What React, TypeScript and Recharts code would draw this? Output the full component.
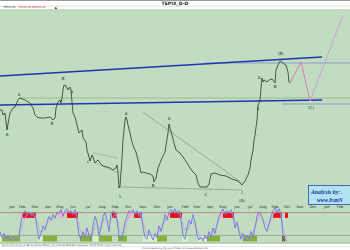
import React from 'react';
import { ComposedChart, Line, XAxis, YAxis, ReferenceLine, ReferenceArea, Scatter } from 'recharts';

// ---- data (x = trading-day position, v = index level in thousands) ----
const PRICE: [number, number][] = [
  [0,74.2],[2,74.2],[3,73.2],[5,73.6],[7,70.2],[9,72.6],[10,73.6],[13,74.6],[15,74.8],[18,76.2],[20,76.6],[25,76.2],
  [30,75.6],[33,74.6],[35,73.2],[37,72.8],[40,72.6],[45,72.6],[50,72.8],[53,72.2],[55,72.6],[56,74.6],[58,75.8],
  [60,76.2],[61,75.6],[62,76.6],[63,78.2],[64,79.2],[66,79.0],[68,78.2],[70,78.8],[71,78.2],[72,75.8],[73,73.6],
  [75,72.8],[77,71.2],[79,69.6],[82,70.2],[83,68.6],[86,67.8],[87,66.2],[89,64.8],[90,64.0],[92,65.2],[93,64.8],
  [95,63.6],[98,64.2],[100,63.6],[103,63.0],[107,62.8],[110,62.6],[113,62.2],[116,62.6],[117,63.2],[118,61.8],
  [119,58.6],[120,59.0],[122,64.6],[123,68.2],[125,72.2],[126,72.8],[127,72.2],[128,71.2],[130,69.6],[132,67.8],
  [134,66.6],[136,65.8],[138,64.2],[140,62.6],[141,61.6],[143,61.8],[146,61.6],[150,61.4],[153,61.0],[154,59.8],
  [156,60.6],[158,62.6],[160,63.6],[162,64.6],[165,65.8],[166,67.2],[168,69.6],[169,71.4],[170,70.6],[172,69.2],
  [174,67.6],[176,66.2],[180,65.6],[183,64.8],[187,63.6],[190,62.6],[193,61.8],[196,61.2],[198,59.6],[200,58.8],
  [203,58.8],[207,58.8],[209,59.4],[211,61.4],[215,61.6],[220,61.2],[226,61.0],[232,60.4],[238,60.0],[242,59.2],
  [245,60.0],[248,61.2],[250,62.6],[251,64.2],[253,66.2],[254,68.2],[255,69.2],[257,72.2],[258,75.2],[260,76.0],
  [261,78.6],[262,80.6],[263,79.8],[264,80.2],[267,79.8],[269,80.2],[272,80.4],[275,79.6],[276,82.2],[278,83.2],
  [280,84.0],[282,83.8],[284,83.4],[286,83.2],[288,81.8],[289,79.8],[290,79.6],
];
const PROJECTION_1: [number, number][] = [[290,79.6],[301,83.8],[310,76.0]];
const PROJECTION_2: [number, number][] = [[310,76.0],[343,93.2]];

const UPPER_CHANNEL: [number, number][] = [[0,81.0],[322,84.8]];
const LOWER_CHANNEL: [number, number][] = [[0,75.2],[322,76.2]];
const UPPER_LEVEL: [number, number][] = [[205,83.6],[350,83.6]];
const LOWER_LEVEL: [number, number][] = [[282,75.4],[350,75.4]];
const GREEN_LEVEL: [number, number][] = [[18,76.6],[350,76.6]];
const TRIANGLE_TOP: [number, number][] = [[143,73.8],[242,59.6]];
const TRIANGLE_BASE: [number, number][] = [[120,58.8],[242,58.2]];
const SMALL_UPPER: [number, number][] = [[93,65.6],[118,64.6]];
const SMALL_LOWER: [number, number][] = [[95,63.6],[118,61.6]];

const WAVE_LABELS: [number, number, string][] = [
  [7,69.4,'A'],[19,77.4,'A'],[52,71.6,'B'],[63,80.6,'B'],[72,78.0,'a'],[88,64.0,'c'],[120,57.0,'1'],
  [126,73.6,'A'],[153,59.2,'B'],[169,72.6,'A'],[206,57.4,'C'],[242,57.8,'I'],[242,56.2,'(A)'],
  [258,74.6,'4'],[259,80.8,'A'],[275,79.0,'B'],[281,85.6,'(B)'],[311,74.8,'(C)'],
];

const MONTH_DAYS = [12,22,35,48,60,73,88,102,115,128,143,157,170,185,197,210,223,237,250,263,275,287,300,313,327,340];
const MONTH_NAMES = ['Jan','Feb','Mar','Apr','May','Jun','Jul','Aug','Sep','Oct','Nov','Dec',
  'Jan','Feb','Mar','Apr','May','Jun','Jul','Aug','Sep','Oct','Nov','Dec','Jan','Feb'];

const STOCH_K: [number, number][] = [
  [0,30],[2,15],[4,25],[6,10],[8,20],[10,8],[13,15],[16,10],[19,20],[21,55],[23,78],[25,85],[27,78],[29,82],
  [31,70],[33,80],[35,75],[37,40],[39,10],[41,25],[43,45],[45,35],[47,55],[49,70],[51,60],[53,75],[55,65],
  [57,82],[59,78],[61,88],[63,70],[65,85],[67,90],[69,80],[71,85],[73,75],[75,88],[77,60],[79,20],[81,10],
  [83,30],[85,15],[87,40],[89,20],[91,10],[93,45],[95,70],[97,55],[99,20],[101,40],[103,70],[105,80],[107,60],
  [109,30],[111,75],[113,85],[115,80],[117,60],[119,15],[121,10],[123,25],[125,55],[127,70],[129,85],[131,80],
  [133,88],[135,75],[137,85],[139,70],[141,82],[143,40],[145,15],[147,10],[149,35],[151,20],[153,8],[155,25],
  [157,15],[159,45],[161,30],[163,50],[165,75],[167,60],[169,82],[171,88],[173,80],[175,90],[177,78],[179,85],
  [181,60],[183,20],[185,10],[187,40],[189,60],[191,50],[193,75],[195,55],[197,20],[199,8],[201,15],[203,5],
  [205,20],[207,10],[209,30],[211,15],[213,40],[215,25],[217,50],[219,70],[221,80],[223,90],[225,75],[227,85],
  [229,80],[231,88],[233,70],[235,40],[237,55],[239,30],[241,10],[243,25],[245,8],[247,20],[249,10],[251,30],
  [253,15],[255,40],[257,70],[259,82],[261,75],[263,60],[265,40],[267,30],[269,50],[271,70],[273,85],[275,92],
  [277,80],[279,90],[281,75],[283,20],[285,10],[287,5],
];
const STOCH_D: [number, number][] = [
  [0,25],[4,18],[8,15],[12,12],[16,12],[20,25],[24,60],[28,80],[32,77],[36,65],[40,30],[44,32],[48,55],[52,65],
  [56,72],[60,82],[64,80],[68,85],[72,80],[76,78],[80,35],[84,18],[88,25],[92,22],[96,55],[100,35],[104,65],
  [108,55],[112,65],[116,78],[120,30],[124,25],[128,65],[132,82],[136,80],[140,78],[144,45],[148,20],[152,20],
  [156,18],[160,35],[164,55],[168,72],[172,85],[176,83],[180,78],[184,35],[188,35],[192,60],[196,45],[200,12],
  [204,12],[208,18],[212,25],[216,40],[220,68],[224,82],[228,82],[232,80],[236,52],[240,30],[244,15],[248,14],
  [252,20],[256,50],[260,75],[264,60],[268,42],[272,70],[276,85],[280,85],[284,30],[287,10],
];

const ZONES_RED: [number, number][] = [[23,36],[67,78],[112,117],[134,142],[170,182],[223,234],[273,282],[285,288]];
const ZONES_PINK: [number, number][] = [[20,22],[58,65],[128,133],[220,223],[257,259]];
const ZONES_GREEN: [number, number][] = [[2,20],[43,57],[80,92],[99,112],[118,127],[157,167],[207,220],[243,257]];
const ZONES_LIGHT: [number, number][] = [[0,2],[38,42],[93,98],[143,157],[182,188],[198,207]];
const ZONES_BROWN: [number, number][] = [[282,285]];

const pts = (a: [number, number][]) => a.map(([x, v]) => ({ x, v }));
const seg = (a: [number, number][]) => a.map(([x, y]) => ({ x, y }));

const FONT = 'DejaVu Sans';

const LabelShape = (p: any) => (
  <text x={p.cx} y={p.cy} fontSize={4} fontFamily={FONT} textAnchor="middle" dominantBaseline="central" fill="#222">
    {p.payload.t}
  </text>
);

export default function App() {
  const labels = WAVE_LABELS.map(([x, v, t]) => ({ x, v, t }));
  return (
    <div style={{ position: 'absolute', left: 0, top: 0, width: 350, height: 250, background: '#ffffff', overflow: 'hidden' }}>
      {/* frame background */}
      <svg width={350} height={250} style={{ position: 'absolute', left: 0, top: 0 }}>
        <rect x={0} y={0} width={350} height={1} fill="#9a9a9a" />
        <text x={175} y={4.6} fontSize={4.6} fontWeight="bold" fontFamily={FONT} textAnchor="middle" fill="#222">TEPIX_D-D</text>
        <rect x={0} y={5.8} width={350} height={0.6} fill="#c8c8c8" />
        <text x={3} y={8.4} fontSize={2.8} fontFamily={FONT} fill="#333">TEPIX,D1</text>
        <text x={18} y={8.4} fontSize={2.8} fontFamily={FONT} fill="#e03030">79446.30 80163.40</text>
        <text x={55} y={8.6} fontSize={3} fontFamily={FONT} fill="#222">▶</text>
        <rect x={0} y={9} width={350} height={234} fill="#c1ddc1" />
        <rect x={0} y={242.8} width={350} height={0.7} fill="#8a9a8a" />
        <text x={2} y={245.6} fontSize={2.4} fontFamily={FONT} fill="#444">Stoch 14,3,3 (H,L,C) 80.00 20.00 (DTosc) 21,13,8 Val 85.8  82.4  Obv/Ovs 75.00 25.00 (2nd) 3.00 Chs</text>
        <rect x={0} y={246.3} width={350} height={0.5} fill="#cfcfcf" />
        <text x={175} y={249.2} fontSize={2.4} fontFamily={FONT} textAnchor="middle" fill="#555">Chart created by Dynamic Trader 3.0 www.dtrader.com</text>
      </svg>

      {/* main price chart */}
      <div style={{ position: 'absolute', left: 0, top: 9 }}>
        <ComposedChart width={350} height={202} margin={{ top: 0, right: 0, bottom: 0, left: 0 }}>
          <XAxis dataKey="x" type="number" domain={[0, 350]} allowDataOverflow ticks={MONTH_DAYS} interval={0}
            tickFormatter={(v: number) => MONTH_NAMES[MONTH_DAYS.indexOf(v)] ?? ''}
            height={6} axisLine={false} tickLine={false} tickSize={0} tickMargin={0}
            tick={{ fontSize: 3.6, fill: '#2a2a2a', fontFamily: FONT }} />
          <YAxis type="number" domain={[55.2, 94.4]} hide allowDataOverflow />
          <ReferenceLine segment={seg(GREEN_LEVEL)} stroke="#98b478" strokeWidth={0.8} ifOverflow="visible" />
          <ReferenceLine segment={seg(UPPER_LEVEL)} stroke="#7f8fc8" strokeWidth={0.8} ifOverflow="visible" />
          <ReferenceLine segment={seg(LOWER_LEVEL)} stroke="#7f8fc8" strokeWidth={0.8} ifOverflow="visible" />
          <ReferenceLine segment={seg(TRIANGLE_TOP)} stroke="#7e9e7e" strokeWidth={0.7} ifOverflow="visible" />
          <ReferenceLine segment={seg(TRIANGLE_BASE)} stroke="#7e9e7e" strokeWidth={0.7} ifOverflow="visible" />
          <ReferenceLine segment={seg(SMALL_UPPER)} stroke="#8faa8f" strokeWidth={0.6} ifOverflow="visible" />
          <ReferenceLine segment={seg(SMALL_LOWER)} stroke="#8faa8f" strokeWidth={0.6} ifOverflow="visible" />
          <ReferenceLine segment={seg(UPPER_CHANNEL)} stroke="#2334b0" strokeWidth={1.6} ifOverflow="visible" />
          <ReferenceLine segment={seg(LOWER_CHANNEL)} stroke="#2334b0" strokeWidth={1.6} ifOverflow="visible" />
          <Line data={pts(PRICE)} dataKey="v" stroke="#2b342b" strokeWidth={0.8} dot={false} isAnimationActive={false} />
          <Line data={pts(PROJECTION_1)} dataKey="v" stroke="#e070b0" strokeWidth={0.9} dot={false} isAnimationActive={false} />
          <Line data={pts(PROJECTION_2)} dataKey="v" stroke="#d296dc" strokeWidth={0.9} dot={false} isAnimationActive={false} />
          <Scatter data={labels} dataKey="v" shape={LabelShape} isAnimationActive={false} />
        </ComposedChart>
      </div>

      {/* stochastic panel */}
      <div style={{ position: 'absolute', left: 0, top: 205 }}>
        <ComposedChart width={350} height={38} margin={{ top: 0, right: 0, bottom: 0, left: 0 }}>
          <XAxis dataKey="x" type="number" domain={[0, 350]} hide allowDataOverflow />
          <YAxis type="number" domain={[0, 100]} hide allowDataOverflow />
          {ZONES_LIGHT.map(([a, b], i) => (
            <ReferenceArea key={'l' + i} x1={a} x2={b} y1={4} y2={20} fill="#d6f2cc" fillOpacity={1} stroke="none" />
          ))}
          {ZONES_GREEN.map(([a, b], i) => (
            <ReferenceArea key={'g' + i} x1={a} x2={b} y1={4} y2={20} fill="#86b23a" fillOpacity={1} stroke="none" />
          ))}
          {ZONES_BROWN.map(([a, b], i) => (
            <ReferenceArea key={'b' + i} x1={a} x2={b} y1={4} y2={20} fill="#7a6a30" fillOpacity={1} stroke="none" />
          ))}
          {ZONES_PINK.map(([a, b], i) => (
            <ReferenceArea key={'p' + i} x1={a} x2={b} y1={66} y2={80} fill="#f2b6c8" fillOpacity={1} stroke="none" />
          ))}
          {ZONES_RED.map(([a, b], i) => (
            <ReferenceArea key={'r' + i} x1={a} x2={b} y1={66} y2={80} fill="#e8141c" fillOpacity={1} stroke="none" />
          ))}
          <ReferenceLine y={80} stroke="#b07a6a" strokeWidth={0.8} />
          <ReferenceLine y={20} stroke="#8aa58a" strokeWidth={0.8} />
          <Line data={pts(STOCH_D)} dataKey="v" stroke="#c9a2dc" strokeWidth={0.9} dot={false} isAnimationActive={false} />
          <Line data={pts(STOCH_K)} dataKey="v" stroke="#7474e0" strokeWidth={0.9} dot={false} isAnimationActive={false} />
        </ComposedChart>
      </div>

      {/* analysis note box */}
      <svg width={350} height={250} style={{ position: 'absolute', left: 0, top: 0, pointerEvents: 'none' }}>
        <rect x={308.5} y={185.5} width={50} height={19} fill="#b3e3f3" stroke="#2a4aa8" strokeWidth={0.8} />
        <text x={311} y={194} fontSize={5.8} fontStyle="italic" fontWeight="bold" fontFamily="Liberation Serif" fill="#14309a">Analysis by: .</text>
        <text x={317} y={201.5} fontSize={5.4} fontStyle="italic" fontWeight="bold" fontFamily="Liberation Serif" fill="#14309a">www.IranN</text>
      </svg>
    </div>
  );
}
